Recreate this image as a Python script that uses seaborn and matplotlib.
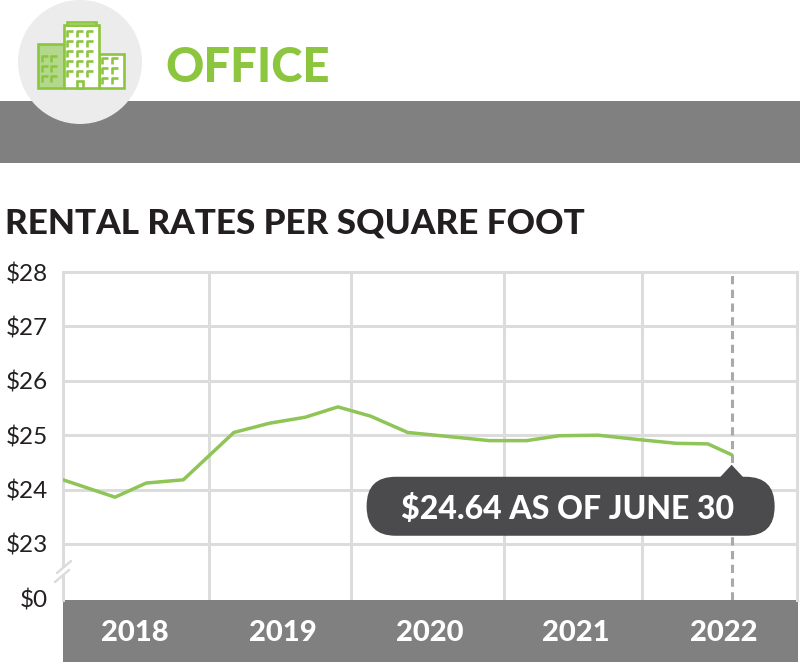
import matplotlib
matplotlib.use("Agg")
import matplotlib.pyplot as plt
import seaborn as sns
from matplotlib.patches import Rectangle, Circle, FancyBboxPatch, Polygon

# =====================================
# DATA
# =====================================

# quarterly observations, x as fractional year
QUARTER_POS = [2018.00, 2018.35, 2018.56, 2018.81, 2019.15, 2019.39,
               2019.63, 2019.85, 2020.07, 2020.32, 2020.87, 2021.12,
               2021.34, 2021.60, 2021.87, 2022.13, 2022.34, 2022.50]
RATES = [24.18, 23.86, 24.12, 24.18, 25.05, 25.22,
         25.33, 25.52, 25.35, 25.05, 24.90, 24.90,
         24.99, 25.00, 24.92, 24.85, 24.84, 24.64]

YEAR_LABELS = ["2018", "2019", "2020", "2021", "2022"]
YEAR_LABEL_POS = [2018.48, 2019.48, 2020.47, 2021.45, 2022.45]
YEAR_GRID_POS = [2018.98, 2019.94, 2020.97, 2021.90]

# axis is broken: the bottom tick stands for $0
Y_TICKS = [22, 23, 24, 25, 26, 27, 28]
Y_LABELS = ["$0", "$23", "$24", "$25", "$26", "$27", "$28"]

TITLE = "RENTAL RATES PER SQUARE FOOT"
HEADER = "OFFICE"
CALLOUT = "$24.64 AS OF JUNE 30"

# =====================================
# STYLE
# =====================================

GREEN = "#8cc63f"
LIGHT_GREEN = "#b3d88c"
GRID = "#dcdcdc"
BAND = "#808080"
DARK = "#4b4b4d"
INK = "#231f20"

W, H = 800, 662

sns.set_theme(style="white")
plt.rcParams["font.family"] = ["Lato", "DejaVu Sans"]

fig = plt.figure(figsize=(W / 100, H / 100), dpi=100)

# background layer in pixel coordinates
bg = fig.add_axes([0, 0, 1, 1], zorder=0)
bg.set_xlim(0, W)
bg.set_ylim(H, 0)
bg.axis("off")

# header band + circle
bg.add_patch(Rectangle((0, 101), W, 62, color=BAND, lw=0))
bg.add_patch(Circle((80, 62), 62, color="#ececec", lw=0, zorder=2))

# building icon
lw_icon = 1.9
bg.add_patch(Rectangle((37.5, 43.5), 26, 44, fc=LIGHT_GREEN, ec=GREEN,
                       lw=lw_icon, zorder=3))
bg.add_patch(Rectangle((98.5, 53.5), 25, 34, fc="white", ec=GREEN,
                       lw=lw_icon, zorder=3))
bg.add_patch(Rectangle((63.5, 25), 35, 62.5, fc="white", ec=GREEN,
                       lw=lw_icon, zorder=4))
bg.add_patch(Rectangle((66.5, 21.5), 29, 3.5, fc="white", ec=GREEN,
                       lw=lw_icon, zorder=4))
bg.add_patch(Rectangle((77, 80.5), 6, 7, fc="white", ec=GREEN,
                       lw=lw_icon, zorder=5))


def window(x, y):
    bg.plot([x, x, x + 6], [y + 6, y, y], color=GREEN, lw=lw_icon,
            solid_capstyle="butt", zorder=6)


for wx in [67, 77, 86.5]:
    for wy in [31, 41, 51, 61, 71]:
        window(wx, wy)
for wx in [42, 51]:
    for wy in [56, 66, 76]:
        window(wx, wy)
for wx in [102, 112]:
    for wy in [58, 68, 78]:
        window(wx, wy)

bg.text(165, 82, HEADER, ha="left", va="baseline", fontsize=34,
        fontweight="black", color=GREEN)

bg.text(5, 233, TITLE, ha="left", va="baseline", fontsize=25.3,
        fontweight="black", color=INK)

# x-axis band
bg.add_patch(Rectangle((63, 600), 735, 62, color=BAND, lw=0))

# =====================================
# CHART
# =====================================

ax = fig.add_axes([63 / W, (H - 600) / H, 734 / W, 328 / H], zorder=1)
ax.set_facecolor("white")

for y in Y_TICKS[1:-1]:
    ax.axhline(y, color=GRID, lw=2.2, zorder=1)
for x in YEAR_GRID_POS:
    ax.axvline(x, color=GRID, lw=2.2, zorder=1)

ax.axvline(QUARTER_POS[-1], color="#a9a9a9", lw=2.2,
           dashes=(2.7, 1.8), zorder=1)

sns.lineplot(x=QUARTER_POS, y=RATES, ax=ax, color="#8fc457",
             linewidth=2.5, zorder=3)

ax.set_xlim(2018.0, 2022.94)
ax.set_ylim(21.97, 28)

ax.set_yticks(Y_TICKS, Y_LABELS)
ax.set_xticks(YEAR_LABEL_POS, YEAR_LABELS)
ax.tick_params(axis="y", length=0, pad=11, labelsize=17.5, labelcolor=INK)
ax.tick_params(axis="x", length=0, pad=14.5, labelsize=21, labelcolor="white")
for lab in ax.get_xticklabels():
    lab.set_fontweight("black")

for side in ["top", "left", "right"]:
    ax.spines[side].set_color(GRID)
    ax.spines[side].set_linewidth(2.2)
ax.spines["bottom"].set_visible(False)
ax.set_xlabel("")
ax.set_ylabel("")

# =====================================
# OVERLAY: callout + axis break
# =====================================

fg = fig.add_axes([0, 0, 1, 1], zorder=5)
fg.set_xlim(0, W)
fg.set_ylim(H, 0)
fg.axis("off")
fg.patch.set_alpha(0)

px, py = ax.transData.transform((QUARTER_POS[-1], RATES[-1]))
X, Y = px, H - py

fg.add_patch(FancyBboxPatch((X - 365 + 29, Y + 22 + 29), 408 - 58, 59 - 58,
                            boxstyle="round,pad=29", fc=DARK, lw=0))
fg.add_patch(Polygon([(X - 13, Y + 24), (X + 13, Y + 24), (X, Y + 10)],
                     closed=True, fc=DARK, lw=0))
fg.text(X - 164, Y + 64, CALLOUT, ha="center", va="baseline", fontsize=23,
        fontweight="black", color="white")

# break marks on the left axis line
fg.add_patch(Polygon([(57, 573), (71, 561), (69, 570), (55, 582)],
                     closed=True, fc="white", lw=0))
fg.plot([57, 71], [573, 561], color=GRID, lw=1.8)
fg.plot([55, 69], [582, 570], color=GRID, lw=1.8)

fig.savefig("out.png", dpi=100)
